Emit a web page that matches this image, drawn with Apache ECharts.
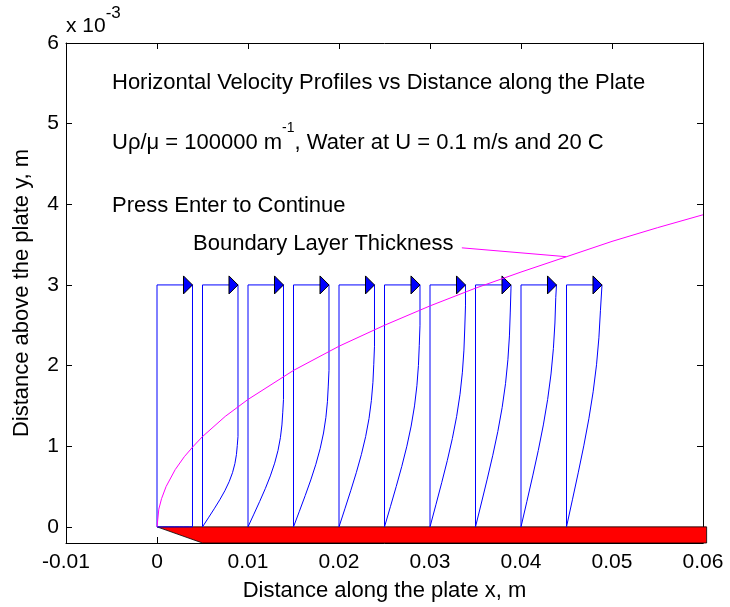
<!DOCTYPE html>
<html>
<head>
<meta charset="utf-8">
<script src="https://cdn.jsdelivr.net/npm/echarts@6/dist/echarts.min.js"></script>
<style>
  html, body { margin: 0; padding: 0; background: #fff; }
  #chart { width: 730px; height: 607px; }
</style>
</head>
<body>
<div id="chart"></div>
<script>
// boundary layer thickness (m)
var blX = [0, 0.0002, 0.0005, 0.001, 0.002, 0.003, 0.004, 0.005, 0.0075, 0.01, 0.015, 0.02, 0.025, 0.03, 0.035, 0.04, 0.045, 0.05, 0.055, 0.06];
var blDelta = [0, 0.00022, 0.00035, 0.0005, 0.00071, 0.00087, 0.001, 0.00112, 0.00137, 0.00158, 0.00194, 0.00224, 0.0025, 0.00274, 0.00296, 0.00316, 0.00335, 0.00354, 0.00371, 0.00387];

// velocity profiles: start x, layer thickness there, drawn length of U and top height
var profileX = [0, 0.005, 0.01, 0.015, 0.02, 0.025, 0.03, 0.035, 0.04, 0.045];
var profileDelta = [0, 0.00112, 0.00158, 0.00194, 0.00224, 0.0025, 0.00274, 0.00296, 0.00316, 0.00335];
var profileU = 0.0039;
var profileTop = 0.003;

// u/U through the layer at y/delta = shapeY
var shapeY = [0, 0.1, 0.2, 0.3, 0.4, 0.5, 0.6, 0.7, 0.8, 0.9, 1.0];
var shapeU = [0, 0.166, 0.330, 0.487, 0.630, 0.751, 0.846, 0.913, 0.956, 0.980, 0.992];

// pointer from the label to the curve
var pointerX = [0.0335, 0.045];
var pointerY = [0.00346, 0.00335];

// the plate (red wedge)
var plateX = [0, 0.0604, 0.0604, 0.005];
var plateY = [0, 0, -0.0002, -0.0002];

var yTicks = [0, 0.001, 0.002, 0.003, 0.004, 0.005, 0.006];

var font = "'Liberation Sans', Arial, sans-serif";
var myChart = echarts.init(document.getElementById('chart'));

var series = [];

// red plate
series.push({
  type: 'custom',
  clip: false,
  z: 3,
  data: [0],
  renderItem: function (params, api) {
    var pts = plateX.map(function (x, i) { return api.coord([x, plateY[i]]); });
    return {
      type: 'polygon',
      shape: { points: pts },
      style: { fill: '#ff0000', stroke: '#000', lineWidth: 0.8 }
    };
  }
});

// profiles
profileX.forEach(function (x0, k) {
  var d = profileDelta[k];
  // outline: bottom -> up the left side -> along the top
  var frame = [[x0, 0], [x0, profileTop], [x0 + profileU, profileTop]];
  series.push({
    type: 'line', data: frame, showSymbol: false, silent: true, animation: false,
    lineStyle: { color: '#0000ff', width: 1 }
  });
  // right side: straight down to the layer edge, then the velocity curve to the wall
  var curve = [[x0 + profileU, profileTop]];
  for (var j = shapeY.length - 1; j >= 0; j--) {
    var y = d * shapeY[j];
    if (y >= profileTop) continue;
    curve.push([x0 + profileU * (j === shapeY.length - 1 ? 1 : shapeU[j]), y]);
  }
  curve.push([x0, 0]);
  series.push({
    type: 'line', data: curve, showSymbol: false, silent: true, animation: false,
    lineStyle: { color: '#0000ff', width: 1 }
  });
});

// arrow heads
series.push({
  type: 'custom',
  z: 4,
  data: profileX.map(function (x) { return [x + profileU, profileTop]; }),
  renderItem: function (params, api) {
    var p = api.coord([api.value(0), api.value(1)]);
    return {
      type: 'polygon',
      shape: { points: [[p[0], p[1]], [p[0] - 9, p[1] - 9], [p[0] - 9, p[1] + 9]] },
      style: { fill: '#0000ff', stroke: '#000', lineWidth: 1 }
    };
  }
});

// boundary layer thickness
series.push({
  type: 'line', showSymbol: false, animation: false, z: 5,
  data: blX.map(function (x, i) { return [x, blDelta[i]]; }),
  lineStyle: { color: '#ff00ff', width: 1 }
});
series.push({
  type: 'line', showSymbol: false, animation: false, z: 5,
  data: pointerX.map(function (x, i) { return [x, pointerY[i]]; }),
  lineStyle: { color: '#ff00ff', width: 1 }
});

var axisLine = { show: true, onZero: false, lineStyle: { color: '#000', width: 1 } };
var tick = { show: true, inside: true, length: 6, lineStyle: { color: '#000' } };

myChart.setOption({
  animation: false,
  backgroundColor: '#fff',
  grid: { left: 66, right: 27, top: 43, bottom: 63 },
  textStyle: { fontFamily: font },
  xAxis: [{
    type: 'value', min: -0.01, max: 0.06, interval: 0.01,
    name: 'Distance along the plate x, m', nameLocation: 'middle', nameGap: 37,
    nameTextStyle: { fontSize: 22, color: '#000', fontFamily: font },
    axisLine: axisLine, axisTick: tick, splitLine: { show: false },
    axisLabel: {
      fontSize: 21, color: '#000', fontFamily: font, margin: 9,
      formatter: function (v) { return String(parseFloat(v.toFixed(2))); }
    }
  }, {
    type: 'value', position: 'top', min: -0.01, max: 0.06, interval: 0.01,
    axisLine: axisLine, axisTick: tick, splitLine: { show: false }, axisLabel: { show: false }
  }],
  yAxis: [{
    type: 'value', min: -0.0002, max: 0.006,
    name: 'Distance above the plate y, m', nameLocation: 'middle', nameGap: 33,
    nameTextStyle: { fontSize: 22, color: '#000', fontFamily: font },
    axisLine: axisLine, splitLine: { show: false },
    axisTick: { show: true, inside: true, length: 6, lineStyle: { color: '#000' }, customValues: yTicks },
    axisLabel: {
      fontSize: 21, color: '#000', fontFamily: font, margin: 7, customValues: yTicks,
      formatter: function (v) { return String(Math.round(v * 1000)); }
    }
  }, {
    type: 'value', position: 'right', min: -0.0002, max: 0.006,
    axisLine: axisLine, splitLine: { show: false }, axisLabel: { show: false },
    axisTick: { show: true, inside: true, length: 6, lineStyle: { color: '#000' }, customValues: yTicks }
  }],
  graphic: [
    {
      type: 'text', left: 66, top: 5,
      style: {
        text: '{m|x 10}{s|-3}', fontFamily: font, fill: '#000',
        rich: {
          m: { fontSize: 21, fontFamily: font, verticalAlign: 'bottom', lineHeight: 32 },
          s: { fontSize: 17, fontFamily: font, verticalAlign: 'top', lineHeight: 32 }
        }
      }
    },
    {
      type: 'text', left: 112, top: 72,
      style: { text: 'Horizontal Velocity Profiles vs Distance along the Plate', fontSize: 22, fontFamily: font, fill: '#000' }
    },
    {
      type: 'text', left: 112, top: 121,
      style: {
        text: '{m|U\u03c1/\u03bc = 100000 m}{s|-1}{m|, Water at U = 0.1 m/s and 20 C}', fontFamily: font, fill: '#000',
        rich: {
          m: { fontSize: 22, fontFamily: font, verticalAlign: 'bottom', lineHeight: 33 },
          s: { fontSize: 14, fontFamily: font, verticalAlign: 'top', lineHeight: 33 }
        }
      }
    },
    {
      type: 'text', left: 112, top: 195,
      style: { text: 'Press Enter to Continue', fontSize: 22, fontFamily: font, fill: '#000' }
    },
    {
      type: 'text', left: 193, top: 233,
      style: { text: 'Boundary Layer Thickness', fontSize: 22, fontFamily: font, fill: '#000' }
    }
  ],
  series: series
});
</script>
</body>
</html>
